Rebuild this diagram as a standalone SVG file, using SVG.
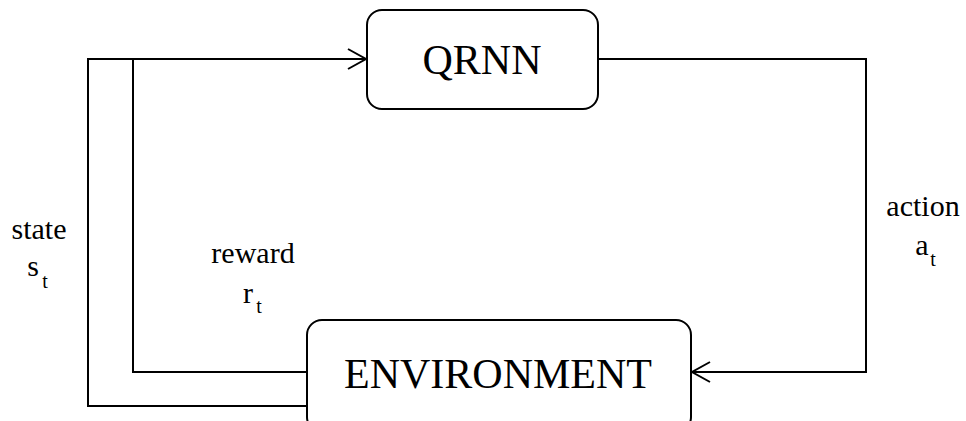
<svg xmlns="http://www.w3.org/2000/svg" width="966" height="421" viewBox="0 0 966 421">
  <style>
    .box { fill: #ffffff; stroke: #000000; stroke-width: 2; }
    .wire { fill: none; stroke: #000000; stroke-width: 2; }
    .label { font-family: "Liberation Serif", "Times New Roman", serif; fill: #000000; text-anchor: middle; }
    .big { font-size: 42px; }
    .small { font-size: 30px; }
    .sub { font-size: 20px; }
  </style>
  <defs>
    <marker id="openArrow" markerWidth="22" markerHeight="24" refX="19" refY="11" orient="auto" markerUnits="userSpaceOnUse">
      <path d="M1,1 L19,11 L1,21" fill="none" stroke="#000000" stroke-width="2"/>
    </marker>
  </defs>
  <rect width="966" height="421" fill="#ffffff"/>

  <g id="connectors">
    <!-- action: QRNN -> ENVIRONMENT -->
    <polyline class="wire" points="598,59 866,59 866,372 692,372" marker-end="url(#openArrow)"/>
    <!-- reward: ENVIRONMENT -> QRNN -->
    <polyline class="wire" points="307,372 133,372 133,59"/>
    <!-- state: ENVIRONMENT -> QRNN -->
    <polyline class="wire" points="307,406 88,406 88,59 366,59" marker-end="url(#openArrow)"/>
  </g>

  <g id="qrnn">
    <rect class="box" x="367" y="10" width="231" height="99" rx="15" ry="15"/>
    <text class="label big" x="482" y="74">QRNN</text>
  </g>

  <g id="environment">
    <rect class="box" x="307" y="320" width="384" height="112" rx="15" ry="15"/>
    <text class="label big" x="498" y="388">ENVIRONMENT</text>
  </g>

  <g id="labels">
    <text class="label small" x="39" y="239">state</text>
    <text class="label small" x="33" y="276">s</text>
    <text class="label sub" x="45" y="288">t</text>

    <text class="label small" x="253" y="263">reward</text>
    <text class="label small" x="248" y="303">r</text>
    <text class="label sub" x="259" y="313">t</text>

    <text class="label small" x="923" y="216">action</text>
    <text class="label small" x="922" y="255">a</text>
    <text class="label sub" x="933" y="266">t</text>
  </g>
</svg>
